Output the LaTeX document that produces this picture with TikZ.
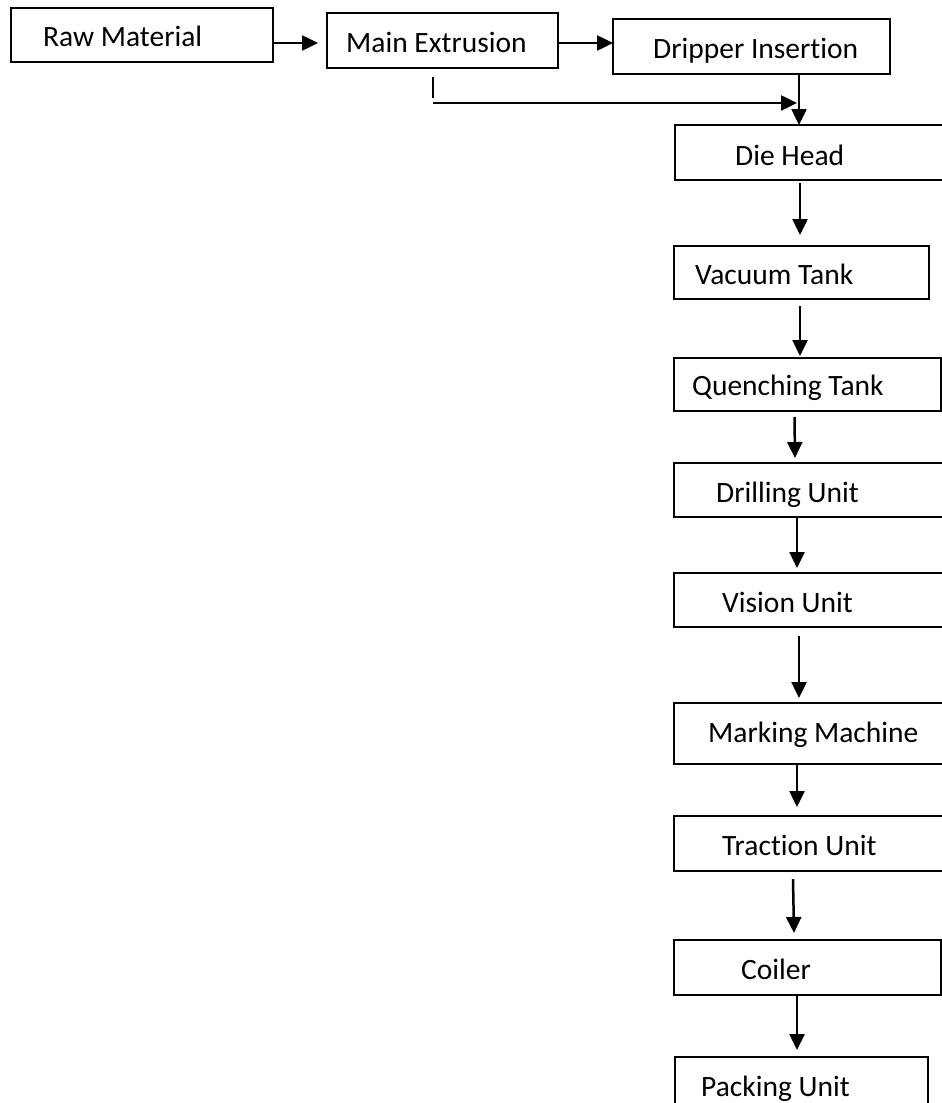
\documentclass[tikz,border=0pt]{standalone}
\usepackage{fontspec}
\setmainfont[Ligatures={NoCommon,NoRare,NoContextual}]{Carlito}
\usetikzlibrary{arrows.meta}
\tikzset{
  box/.style={draw=black, line width=2pt, rectangle, anchor=north west, inner sep=0pt, outer sep=0pt},
  lbl/.style={anchor=base west, inner sep=0pt, font=\fontsize{29.5}{34}\selectfont},
  arr/.style={draw=black, line width=2.5pt, -{Triangle[length=16pt,width=15pt]}},
  conn/.style={draw=black, line width=2.5pt}
}
\begin{document}
\begin{tikzpicture}[x=1pt,y=-1pt]
\useasboundingbox (0,0) rectangle (942,1103);
\clip (0,0) rectangle (942,1103);
\fill[white] (0,0) rectangle (942,1103);
% boxes
\node[box, minimum width=262pt, minimum height=54pt] (raw) at (11,8) {};
\node[box, minimum width=231pt, minimum height=55pt] (main) at (327,13) {};
\node[box, minimum width=277pt, minimum height=55pt] (drip) at (613,19) {};
\node[box, minimum width=280pt, minimum height=55pt] (die) at (675,125) {};
\node[box, minimum width=255pt, minimum height=53pt] (vac) at (674,246) {};
\node[box, minimum width=267pt, minimum height=53pt] (quench) at (674,358) {};
\node[box, minimum width=280pt, minimum height=54pt] (drill) at (674,463) {};
\node[box, minimum width=280pt, minimum height=54pt] (vision) at (674,573) {};
\node[box, minimum width=280pt, minimum height=61pt] (mark) at (674,703) {};
\node[box, minimum width=280pt, minimum height=55pt] (trac) at (674,816) {};
\node[box, minimum width=267pt, minimum height=55pt] (coil) at (674,940) {};
\node[box, minimum width=253pt, minimum height=80pt] (pack) at (675,1057) {};
% labels
\node[lbl] (trawmat) at (43,46) {Raw Material};
\node[lbl] (tmain) at (346,52) {Main Extrusion};
\node[lbl] (tdrip) at (653,58) {Dripper Insertion};
\node[lbl] (tdie) at (735,165) {Die Head};
\node[lbl] (tvac) at (695,284) {Vacuum Tank};
\node[lbl] (tquench) at (692,395) {Quenching Tank};
\node[lbl] (tdrill) at (716,502) {Drilling Unit};
\node[lbl] (tvision) at (722,612) {Vision Unit};
\node[lbl] (tmark) at (708,742) {Marking Machine};
\node[lbl] (ttrac) at (722,855) {Traction Unit};
\node[lbl] (tcoil) at (741,979) {Coiler};
\node[lbl] (tpack) at (701,1096) {Packing Unit};
% connectors
\draw[arr] ([yshift=-8pt]raw.east) -- ([xshift=-9pt,yshift=-2.5pt]main.west);
\draw[arr] ([yshift=-2.5pt]main.east) -- ([yshift=3.5pt]drip.west);
\draw[arr] ([xshift=47.5pt]drip.south) -- ([xshift=-16pt]die.north);
\draw[conn] ([xshift=-9.5pt,yshift=-9pt]main.south) -- ++(0,21);
\draw[arr] ([xshift=-9.5pt,yshift=-35pt]main.south) -- ([xshift=-18pt,yshift=22pt]die.north);
\draw[arr] ([xshift=-15pt,yshift=-3pt]die.south) -- ([xshift=-1.5pt,yshift=11pt]vac.north);
\draw[arr] ([xshift=-1.5pt,yshift=-7pt]vac.south) -- ([xshift=-7.5pt,yshift=2pt]quench.north);
\draw[arr] ([xshift=-13pt,yshift=-6pt]quench.south) -- ([xshift=-19pt,yshift=5pt]drill.north);
\draw[arr] ([xshift=-17pt]drill.south) -- ([xshift=-17pt,yshift=5pt]vision.north);
\draw[arr] ([xshift=-15pt,yshift=-9pt]vision.south) -- ([xshift=-15pt,yshift=5pt]mark.north);
\draw[arr] ([xshift=-17pt]mark.south) -- ([xshift=-17pt,yshift=9pt]trac.north);
\draw[arr] ([xshift=-21pt,yshift=-8pt]trac.south) -- ([xshift=-13.5pt,yshift=7pt]coil.north);
\draw[arr] ([xshift=-10.5pt]coil.south) -- ([xshift=-4.5pt,yshift=7pt]pack.north);
\end{tikzpicture}
\end{document}
